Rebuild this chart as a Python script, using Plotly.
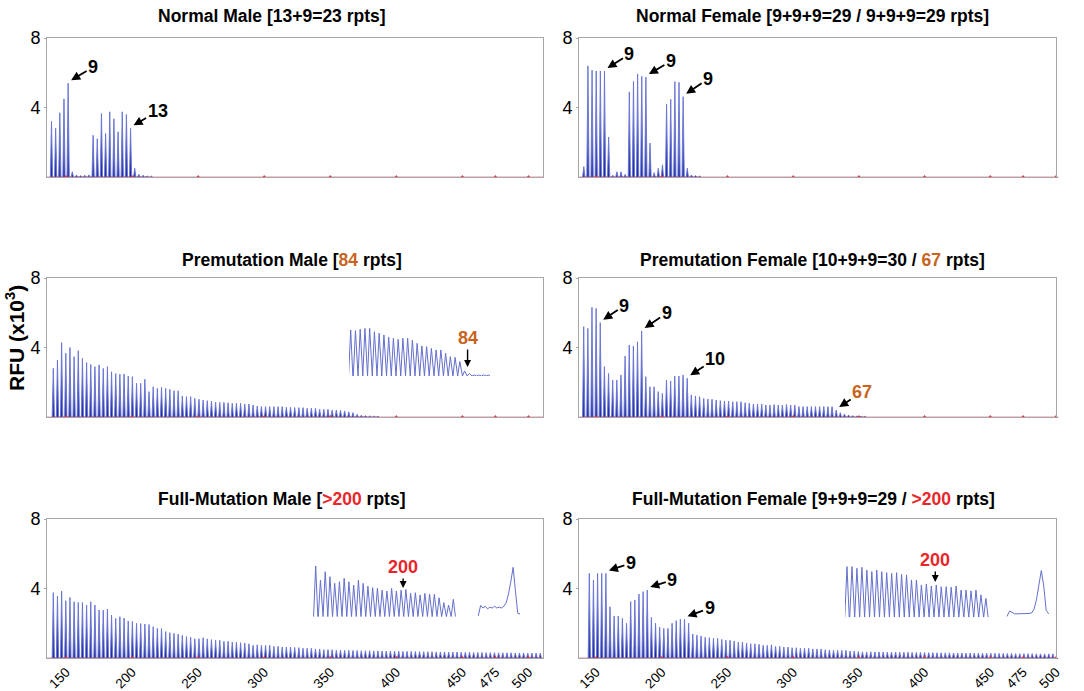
import plotly.graph_objects as go

W, H = 1084, 691
REPEAT = 3.15          # spacing between CGG repeat peaks (size units)
HALF = 0.85            # half-width of a drawn peak (size units)

# ---------------- data ----------------
ladder_bp = [150, 200, 250, 300, 350, 400, 450, 475, 500]
ladder_text = ["150", "200", "250", "300", "350", "400", "450", "475", "500"]
rfu_ticks = [4, 8]
rfu_text = ["4", "8"]

ORANGE = "#c8641e"
RED = "#e8262b"

titles = [
    "Normal Male [13+9=23 rpts]",
    "Normal Female [9+9+9=29 / 9+9+9=29 rpts]",
    f"Premutation Male [<span style='color:{ORANGE}'>84</span> rpts]",
    f"Premutation Female [10+9+9=30 / <span style='color:{ORANGE}'>67</span> rpts]",
    f"Full-Mutation Male [<span style='color:{RED}'>&gt;200</span> rpts]",
    f"Full-Mutation Female [9+9+9=29 / <span style='color:{RED}'>&gt;200</span> rpts]",
]

nm_start = 139.0
nm_rfu = [3.2, 2.8, 3.7, 4.5, 5.4, 0.3, 0.12, 0.08, 0.1, 0.12,
          2.4, 2.2, 3.65, 2.5, 3.75, 3.35, 2.6, 3.75, 3.6, 2.8,
          0.5, 0.15, 0.1, 0.06, 0.05]

nf_start = 140.65
nf_rfu = [0.6, 6.4, 6.15, 6.1, 6.1, 6.1, 2.3, 0.1, 0.3, 0.3,
          0.15, 4.9, 5.5, 5.93, 5.8, 5.75, 1.95, 0.25, 0.5, 0.7,
          4.18, 4.47, 5.49, 5.45, 4.62, 0.5, 0.12, 0.08, 0.06]

pm_start = 140.37
pm_rfu = [2.8, 3.28, 4.28, 3.67, 4.0, 3.47, 3.82, 3.38, 3.13, 3.03,
          2.9, 3.0, 2.8, 2.9, 2.6, 2.5, 2.46, 2.47, 2.36, 2.32,
          1.94, 1.94, 2.17, 1.46, 1.74, 1.65, 1.71, 1.65, 1.59, 1.51,
          1.51, 1.21, 1.17, 1.17, 1.07, 1.02, 0.98, 0.94, 0.92, 0.86,
          0.84, 0.84, 0.82, 0.79, 0.79, 0.79, 0.75, 0.75, 0.69, 0.63,
          0.6, 0.6, 0.6, 0.6, 0.6, 0.6, 0.56, 0.56, 0.54, 0.54,
          0.54, 0.5, 0.5, 0.5, 0.44, 0.44, 0.44, 0.4, 0.4, 0.38,
          0.35, 0.3, 0.25, 0.15, 0.1, 0.08, 0.06, 0.05, 0.05]

pf_start = 140.58
pf_rfu = [5.2, 5.1, 6.31, 6.25, 5.43, 2.9, 2.51, 2.13, 2.13, 2.42,
          3.51, 4.14, 4.09, 4.33, 4.95, 2.32, 1.74, 1.74, 1.46, 1.36,
          2.13, 2.07, 2.36, 2.36, 2.42, 2.23, 1.27, 1.21, 1.17, 1.07,
          1.04, 1.02, 0.98, 0.94, 0.92, 0.92, 0.88, 0.88, 0.88, 0.82,
          0.79, 0.75, 0.75, 0.75, 0.69, 0.69, 0.72, 0.69, 0.69, 0.72,
          0.69, 0.69, 0.6, 0.6, 0.6, 0.6, 0.6, 0.6, 0.6, 0.6,
          0.6, 0.4, 0.25, 0.17, 0.12, 0.08, 0.06, 0.05, 0.05]

fm_start = 140.37
fm_rfu = [3.76, 3.57, 3.85, 3.3, 3.49, 3.24, 3.2, 3.19, 3.05, 3.24,
          3.05, 2.76, 2.76, 2.82, 2.47, 2.28, 2.38, 2.3, 2.13, 2.1,
          2.0, 1.98, 1.96, 1.93, 1.8, 1.71, 1.7, 1.52, 1.46, 1.42,
          1.38, 1.3, 1.23, 1.2, 1.11, 1.11, 1.17, 1.1, 1.06, 1.02,
          1.02, 0.96, 0.96, 0.92, 0.92, 0.88, 0.86, 0.82, 0.73, 0.76,
          0.73, 0.73, 0.73, 0.67, 0.67, 0.63, 0.63, 0.63, 0.6, 0.6,
          0.56, 0.56, 0.56, 0.52, 0.52, 0.48, 0.48, 0.48, 0.44, 0.45,
          0.44, 0.44, 0.43, 0.43, 0.42, 0.42, 0.42, 0.41, 0.41, 0.4,
          0.4, 0.4, 0.39, 0.39, 0.38, 0.38, 0.38, 0.37, 0.37, 0.36,
          0.36, 0.36, 0.35, 0.35, 0.35, 0.34, 0.34, 0.34, 0.33, 0.33,
          0.33, 0.32, 0.32, 0.32, 0.31, 0.31, 0.31, 0.3, 0.3, 0.3,
          0.3, 0.29, 0.29, 0.29, 0.28, 0.28, 0.28, 0.28]

ff_start = 144.84
ff_rfu = [4.87, 4.49, 4.87, 4.87, 4.87, 2.95, 2.42, 2.42, 2.28, 2.0,
          3.24, 3.34, 3.68, 3.82, 3.91, 2.34, 2.0, 1.77, 1.71, 1.71,
          2.0, 2.15, 2.23, 2.23, 2.0, 1.38, 1.32, 1.27, 1.19, 1.17,
          1.13, 1.13, 1.07, 1.02, 1.02, 0.98, 0.92, 0.92, 0.86, 0.82,
          0.82, 0.79, 0.73, 0.73, 0.76, 0.67, 0.67, 0.63, 0.63, 0.59,
          0.59, 0.56, 0.56, 0.56, 0.52, 0.52, 0.52, 0.48, 0.46, 0.44,
          0.44, 0.44, 0.44, 0.4, 0.4, 0.37, 0.35, 0.35, 0.36, 0.35,
          0.35, 0.35, 0.34, 0.34, 0.34, 0.33, 0.33, 0.33, 0.32, 0.32,
          0.32, 0.31, 0.31, 0.31, 0.3, 0.3, 0.3, 0.3, 0.29, 0.29,
          0.29, 0.28, 0.28, 0.28, 0.28, 0.27, 0.27, 0.27, 0.27, 0.26,
          0.26, 0.26, 0.26, 0.25, 0.25, 0.25, 0.25, 0.25, 0.24, 0.24,
          0.24, 0.24, 0.24]

# zoomed insets (peak heights, same RFU scale)
pm_inset_rfu = [2.65, 2.61, 2.69, 2.74, 2.74, 2.55, 2.46, 2.36, 2.23, 2.17,
                2.11, 2.17, 2.17, 2.07, 1.88, 1.73, 1.69, 1.59, 1.5, 1.5,
                1.31, 1.11, 1.07, 0.83, 0.29, 0.15, 0.06, 0.06, 0.06, 0.06]
fm_inset_rfu = [2.92, 2.11, 2.59, 2.3, 1.92, 2.01, 2.21, 2.01, 1.82, 2.11,
                1.92, 1.76, 1.67, 1.63, 1.53, 1.48, 1.63, 1.48, 1.53, 1.57,
                1.34, 1.38, 1.25, 1.34, 1.3, 1.29, 1.09, 0.81, 0.67, 1.0]
fm_inset2_rfu = [0.05, 0.65, 0.5, 0.6, 0.45, 0.55, 0.5, 0.6, 0.5, 0.55,
                 0.5, 0.6, 0.8, 1.3, 2.0, 2.84, 1.5, 0.2, 0.15]
ff_inset_rfu = [2.92, 2.92, 2.82, 2.88, 2.72, 2.63, 2.72, 2.63, 2.57, 2.53,
                2.57, 2.47, 2.44, 2.15, 2.15, 1.86, 1.92, 1.8, 1.86, 1.76,
                1.76, 1.73, 1.8, 1.57, 1.57, 1.52, 1.57, 1.29, 1.09]
ff_inset2_rfu = [0.05, 0.35, 0.3, 0.2, 0.2, 0.2, 0.2, 0.2, 0.2, 0.22,
                 0.25, 0.45, 1.0, 1.9, 2.69, 1.8, 0.4, 0.2]

# ---------------- styling / layout helpers ----------------
FONT = "Liberation Sans, Arial, sans-serif"
BORDER = "#a6a6a6"
PEAK_LINE = "rgba(105,117,212,0.95)"
INSET_LINE = "#6470cc"


def fx(px):
    return px / W


def fy(py):
    return 1 - py / H


COLS = [(47, 543), (579, 1056)]
XRANGES = [[135.6, 511.0], [137.0, 500.0]]
ROWS = [(38, 177), (278, 417), (519, 658)]
TITLE_POS = [(272, 16.5), (812, 16.5), (292, 259.5), (812, 259.5), (282, 499), (813, 499)]

panels = [
    (nm_start, nm_rfu), (nf_start, nf_rfu),
    (pm_start, pm_rfu), (pf_start, pf_rfu),
    (fm_start, fm_rfu), (ff_start, ff_rfu),
]


def sid(k):
    return "" if k == 1 else str(k)


fig = go.Figure()
layout = {}

for k, (start, rfu) in enumerate(panels):
    n = k + 1
    col, row = k % 2, k // 2
    xs, ys = [], []
    for i, h in enumerate(rfu):
        c = start + REPEAT * i
        xs += [c - HALF, c, c + HALF]
        ys += [0, h, 0]
    fig.add_trace(go.Scatter(
        x=xs, y=ys, xaxis="x" + sid(n), yaxis="y" + sid(n), mode="lines",
        line=dict(color=PEAK_LINE, width=1), fill="tozeroy",
        fillgradient=dict(type="vertical", start=0, stop=4.5,
                          colorscale=[[0, "#1a299c"], [0.45, "#3646b6"], [1, "#a3abe6"]]),
        hoverinfo="skip"))
    fig.add_trace(go.Scatter(
        x=ladder_bp, y=[0] * len(ladder_bp), xaxis="x" + sid(n), yaxis="y" + sid(n),
        mode="markers", marker=dict(symbol="triangle-up", size=4, color="#e0303a"),
        cliponaxis=False, hoverinfo="skip"))

    c0, c1 = COLS[col]
    r0, r1 = ROWS[row]
    layout["xaxis" + sid(n)] = dict(
        domain=[fx(c0), fx(c1)], range=XRANGES[col], anchor="y" + sid(n),
        showline=True, mirror=True, linecolor=BORDER, linewidth=1, automargin=False,
        showgrid=False, zeroline=False, ticks="",
        tickvals=ladder_bp, ticktext=ladder_text, tickangle=-45,
        showticklabels=(row == 2), tickfont=dict(size=13.5, color="black", family=FONT))
    layout["yaxis" + sid(n)] = dict(
        domain=[fy(r1), fy(r0)], range=[0, 8], anchor="x" + sid(n),
        showline=True, mirror=True, linecolor=BORDER, linewidth=1, automargin=False,
        showgrid=False, zeroline=False, ticks="outside", ticklen=2, tickcolor=BORDER,
        tickvals=rfu_ticks, ticktext=rfu_text, ticklabelstandoff=0,
        tickfont=dict(size=18, color="black", family=FONT))
    # baseline of the size-standard trace
    fig.add_shape(type="line", xref="x" + sid(n) + " domain", yref="y" + sid(n),
                  x0=0, x1=1, y0=0, y1=0, line=dict(color="rgba(215,60,90,0.55)", width=1))

# ---------------- insets ----------------
# (data, kind, x-domain px, baseline py, x of first point px, point spacing px, marker index, label)
insets = [
    (pm_inset_rfu, "spikes", (349, 490), 376.0, 350.7, 4.745, 1.33, "300bp"),
    (fm_inset_rfu, "spikes", (313, 456), 616.7, 315.7, 4.745, 13.97, "700bp"),
    (fm_inset2_rfu, "line", (477, 521), 616.7, 478.3, 2.32, 1.16, "1000bp"),
    (ff_inset_rfu, "spikes", (845, 989), 617.3, 847.0, 4.96, 13.25, "700bp"),
    (ff_inset2_rfu, "line", (1006, 1050), 617.3, 1007.0, 2.45, 2.04, "1000bp"),
]
PX_PER_UNIT = 139 / 8.0
annotations = []
for j, (vals, kind, (d0, d1), base, first, step, mark, lab) in enumerate(insets):
    n = 7 + j
    if kind == "spikes":
        xs, ys = [], []
        for i, h in enumerate(vals):
            xs += [i - 0.45, i, i + 0.45]
            ys += [0, h, 0]
    else:
        xs, ys = list(range(len(vals))), vals
    fig.add_trace(go.Scatter(x=xs, y=ys, xaxis="x" + str(n), yaxis="y" + str(n),
                             mode="lines", line=dict(color=INSET_LINE, width=1),
                             hoverinfo="skip"))
    fig.add_trace(go.Scatter(x=[mark], y=[-0.27], xaxis="x" + str(n), yaxis="y" + str(n),
                             mode="markers", cliponaxis=False,
                             marker=dict(symbol="triangle-up", size=10, color="#e8262b"),
                             hoverinfo="skip"))
    layout["xaxis" + str(n)] = dict(domain=[fx(d0), fx(d1)],
                                    range=[(d0 - first) / step, (d1 - first) / step],
                                    anchor="y" + str(n), visible=False, automargin=False)
    top = base - 3.0 * PX_PER_UNIT
    layout["yaxis" + str(n)] = dict(domain=[fy(base), fy(top)], range=[0, 3.0],
                                    anchor="x" + str(n), visible=False, automargin=False)
    annotations.append(dict(x=mark, y=-0.27, xref="x" + str(n), yref="y" + str(n),
                            text=lab, showarrow=False, xshift=9, yshift=-19,
                            xanchor="center", yanchor="middle",
                            font=dict(size=18, color="black", family=FONT)))

# ---------------- annotations ----------------
for k, t in enumerate(titles):
    px, py = TITLE_POS[k]
    annotations.append(dict(x=fx(px), y=fy(py), xref="paper", yref="paper", text=f"<b>{t}</b>",
                            showarrow=False, xanchor="center", yanchor="middle",
                            font=dict(size=17.5, color="black", family=FONT)))

annotations.append(dict(x=fx(15), y=fy(338), xref="paper", yref="paper",
                        text="<b>RFU (x10<sup>3</sup>)</b>", textangle=-90, showarrow=False,
                        xanchor="center", yanchor="middle",
                        font=dict(size=21, color="black", family=FONT)))

# arrows: (panel number, start, heights, peak index, label, dx, dy, color)
arrow_specs = [
    (1, nm_start, nm_rfu, 4, "9", 22, -13, "black"),
    (1, nm_start, nm_rfu, 19, "13", 24, -14, "black"),
    (2, nf_start, nf_rfu, 5, "9", 22, -14, "black"),
    (2, nf_start, nf_rfu, 15, "9", 22, -13, "black"),
    (2, nf_start, nf_rfu, 24, "9", 22, -15, "black"),
    (4, pf_start, pf_rfu, 4, "9", 21, -14, "black"),
    (4, pf_start, pf_rfu, 14, "9", 22, -15, "black"),
    (4, pf_start, pf_rfu, 25, "10", 25, -16, "black"),
    (4, pf_start, pf_rfu, 61, "67", 23, -15, ORANGE),
    (6, ff_start, ff_rfu, 4, "9", 22, -7, "black"),
    (6, ff_start, ff_rfu, 14, "9", 22, -7, "black"),
    (6, ff_start, ff_rfu, 23, "9", 22, -8, "black"),
]
for n, start, rfu, idx, lab, dx, dy, colr in arrow_specs:
    annotations.append(dict(
        x=start + REPEAT * idx, y=rfu[idx], xref="x" + sid(n), yref="y" + sid(n),
        text=f"<b>{lab}</b>", showarrow=True, ax=dx, ay=dy, xshift=3, yshift=3,
        arrowhead=2, arrowsize=1, arrowwidth=1.8, arrowcolor="black",
        font=dict(size=18, color=colr, family=FONT)))

# inset arrows: (inset axis number, data, index, label, color, xshift, yshift, dy)
inset_arrows = [
    (7, pm_inset_rfu, 24, "84", ORANGE, 3, 4, -29),
    (8, fm_inset_rfu, 18, "200", RED, 2, 2, -21),
    (10, ff_inset_rfu, 18, "200", RED, -1, 3, -22),
]
for n, vals, idx, lab, colr, xs_, ys_, dy in inset_arrows:
    annotations.append(dict(
        x=idx, y=vals[idx], xref="x" + str(n), yref="y" + str(n),
        text=f"<b>{lab}</b>", showarrow=True, ax=0, ay=dy, xshift=xs_, yshift=ys_,
        arrowhead=2, arrowsize=1, arrowwidth=1.4, arrowcolor="black",
        font=dict(size=18, color=colr, family=FONT)))

fig.update_layout(
    width=W, height=H, autosize=False,
    margin=dict(l=0, r=0, t=0, b=0, pad=0, autoexpand=False),
    paper_bgcolor="white", plot_bgcolor="white", showlegend=False,
    font=dict(family=FONT, color="black"),
    annotations=annotations, **layout)

fig.write_html("out.html", config={"displayModeBar": False},
               post_script="document.body.style.margin='0';document.body.style.overflow='hidden';")
